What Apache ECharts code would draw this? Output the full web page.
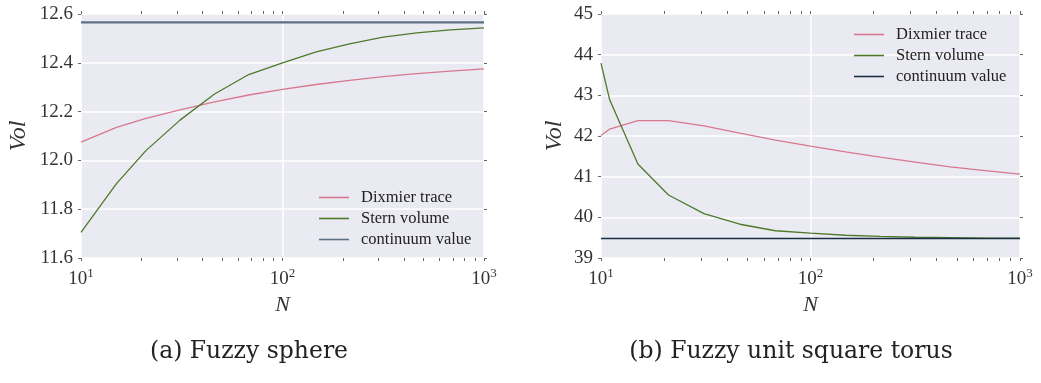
<!DOCTYPE html>
<html>
<head>
<meta charset="utf-8">
<title>Vol vs N</title>
<script src="https://cdn.jsdelivr.net/npm/echarts@6/dist/echarts.min.js"></script>
<style>
  html, body { margin: 0; padding: 0; background: #ffffff; }
  #chart { width: 1041px; height: 383px; }
</style>
</head>
<body>
<div id="chart"></div>
<script>
// Matrix sizes N for each computation
const nSphere = [10, 15, 21, 31, 46, 68, 100, 147, 215, 316, 464, 681, 1000];
const nTorus = [10, 11, 15, 21, 31, 46, 68, 100, 147, 215, 316, 464, 681, 1000];

// (a) Fuzzy sphere
const sphereDixmier = [12.075, 12.135, 12.172, 12.207, 12.240, 12.268, 12.291, 12.311, 12.328, 12.343, 12.356, 12.366, 12.375];
const sphereStern = [11.705, 11.905, 12.040, 12.165, 12.272, 12.352, 12.400, 12.445, 12.478, 12.505, 12.523, 12.535, 12.543];
const sphereContinuum = 12.566;

// (b) Fuzzy unit square torus
const torusDixmier = [42.01, 42.17, 42.38, 42.38, 42.25, 42.07, 41.90, 41.75, 41.61, 41.48, 41.36, 41.24, 41.15, 41.06];
const torusStern = [43.79, 42.89, 41.31, 40.55, 40.09, 39.83, 39.67, 39.61, 39.56, 39.53, 39.51, 39.50, 39.49, 39.49];
const torusContinuum = 39.478;

// Axis ranges and labels
const sphereYTicks = [11.6, 11.8, 12.0, 12.2, 12.4, 12.6];
const torusYTicks = [39, 40, 41, 42, 43, 44, 45];
const xMajor = [10, 100, 1000];
const xTickMarks = [10, 20, 30, 40, 50, 60, 70, 80, 90, 100, 200, 300, 400, 500, 600, 700, 800, 900, 1000];
const seriesNames = ['Dixmier trace', 'Stern volume', 'continuum value'];
const captions = ['(a) Fuzzy sphere', '(b) Fuzzy unit square torus'];

const COLORS = {
  dixmier: '#d8788f',
  stern: '#4e7a29',
  contA: '#5d7084',
  contB: '#1b3045'
};
const SERIF = '"Liberation Serif", "DejaVu Serif", serif';
const TICK = { show: true, inside: false, length: 3, lineStyle: { color: '#666', width: 1 } };

const zip = (xs, ys) => xs.map((x, i) => [x, ys[i]]);

// Bottom axis carries labels and the vertical grid; two more axes carry the
// short log tick marks along the bottom and top edges.
function xAxesFor(gridIndex) {
  const tickOnly = position => ({
    type: 'log', logBase: 10, min: 10, max: 1000, gridIndex, position,
    axisLine: { show: false },
    axisTick: Object.assign({ customValues: xTickMarks }, TICK),
    axisLabel: { show: false },
    splitLine: { show: false }
  });
  return [
    {
      type: 'log', logBase: 10, min: 10, max: 1000, gridIndex,
      position: 'bottom',
      name: 'N', nameLocation: 'middle', nameGap: 24,
      nameTextStyle: { fontFamily: SERIF, fontStyle: 'italic', fontSize: 22, color: '#333' },
      axisLine: { show: false },
      axisTick: { show: false },
      axisLabel: {
        customValues: xMajor, margin: 9,
        formatter: v => '{b|10}{s|' + Math.round(Math.log10(v)) + '}',
        rich: {
          b: { fontFamily: SERIF, fontSize: 19, color: '#333', lineHeight: 22, verticalAlign: 'bottom' },
          s: { fontFamily: SERIF, fontSize: 13, color: '#333', lineHeight: 13, verticalAlign: 'top' }
        }
      },
      splitLine: { show: true, lineStyle: { color: '#ffffff', width: 1.5 } }
    },
    tickOnly('top'),
    tickOnly('bottom')
  ];
}

function yAxesFor(gridIndex, ticks, nameGap, decimals) {
  const min = ticks[0], max = ticks[ticks.length - 1];
  const interval = ticks[1] - ticks[0];
  return [
    {
      type: 'value', gridIndex, min, max, interval, position: 'left',
      name: 'Vol', nameLocation: 'middle', nameGap, nameRotate: 90,
      nameTextStyle: { fontFamily: SERIF, fontStyle: 'italic', fontSize: 24, color: '#333' },
      axisLine: { show: false },
      axisTick: TICK,
      axisLabel: {
        fontFamily: SERIF, fontSize: 19, color: '#333', margin: 8,
        formatter: v => v.toFixed(decimals)
      },
      splitLine: { show: true, lineStyle: { color: '#ffffff', width: 1.5 } }
    },
    {
      type: 'value', gridIndex, min, max, interval, position: 'right',
      axisLine: { show: false },
      axisTick: TICK,
      axisLabel: { show: false },
      splitLine: { show: false }
    }
  ];
}

function lineSeries(name, data, color, width, xIndex, yIndex) {
  return {
    type: 'line', name, data, xAxisIndex: xIndex, yAxisIndex: yIndex,
    showSymbol: false, symbol: 'none', smooth: false, animation: false,
    lineStyle: { color, width }, itemStyle: { color }
  };
}

function legendFor(left, top, contColor) {
  return {
    orient: 'vertical', left, top,
    icon: 'rect', itemWidth: 30, itemHeight: 1.6, itemGap: 4,
    selectedMode: false,
    textStyle: { fontFamily: SERIF, fontSize: 16.5, color: '#222', padding: [0, 0, 0, 7] },
    data: [
      { name: seriesNames[0], itemStyle: { color: COLORS.dixmier } },
      { name: seriesNames[1], itemStyle: { color: COLORS.stern } },
      { name: seriesNames[2], itemStyle: { color: contColor } }
    ]
  };
}

const chart = echarts.init(document.getElementById('chart'), null, { renderer: 'canvas' });

chart.setOption({
  animation: false,
  backgroundColor: '#ffffff',
  grid: [
    { left: 81, top: 14, width: 403, height: 244, show: true, backgroundColor: '#eaeaf2', borderWidth: 0 },
    { left: 601, top: 14, width: 419, height: 244, show: true, backgroundColor: '#eaeaf2', borderWidth: 0 }
  ],
  xAxis: [...xAxesFor(0), ...xAxesFor(1)],
  yAxis: [...yAxesFor(0, sphereYTicks, 50, 1), ...yAxesFor(1, torusYTicks, 34, 0)],
  legend: [legendFor(314, 184, COLORS.contA), legendFor(849, 21, COLORS.contB)],
  series: [
    lineSeries(seriesNames[0], zip(nSphere, sphereDixmier), COLORS.dixmier, 1.3, 0, 0),
    lineSeries(seriesNames[1], zip(nSphere, sphereStern), COLORS.stern, 1.3, 0, 0),
    lineSeries(seriesNames[2], [[10, sphereContinuum], [1000, sphereContinuum]], COLORS.contA, 2.2, 0, 0),
    lineSeries(seriesNames[0], zip(nTorus, torusDixmier), COLORS.dixmier, 1.3, 3, 2),
    lineSeries(seriesNames[1], zip(nTorus, torusStern), COLORS.stern, 1.3, 3, 2),
    lineSeries(seriesNames[2], [[10, torusContinuum], [1000, torusContinuum]], COLORS.contB, 1.5, 3, 2)
  ],
  graphic: [
    { type: 'text', x: 249, y: 352, z: 10,
      style: { text: captions[0], fontFamily: '"DejaVu Serif", serif', fontSize: 23.5, fill: '#222', align: 'center', verticalAlign: 'middle' } },
    { type: 'text', x: 791, y: 352, z: 10,
      style: { text: captions[1], fontFamily: '"DejaVu Serif", serif', fontSize: 23.5, fill: '#222', align: 'center', verticalAlign: 'middle' } }
  ]
});
</script>
</body>
</html>
